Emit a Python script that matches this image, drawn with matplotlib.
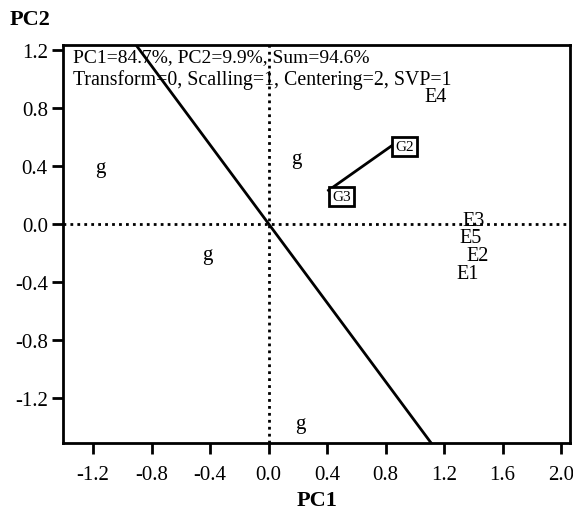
import matplotlib
matplotlib.use('Agg')
import matplotlib.pyplot as plt
import numpy as np

plt.rcParams['font.family'] = ['Liberation Serif', 'DejaVu Serif']

# genotype markers ("g")
g_x = [-1.15, 0.19, -0.42, 0.22]
g_y = [0.39, 0.45, -0.21, -1.38]

# environments
env_labels = ['E1', 'E2', 'E3', 'E4', 'E5']
env_x = [1.36, 1.43, 1.40, 1.145, 1.38]
env_y = [-0.34, -0.22, 0.025, 0.875, -0.095]

# boxed genotypes
box_labels = ['G2', 'G3']
box_x = [0.93, 0.50]
box_y = [0.53, 0.19]

# segment between G3 and G2
seg_x = [0.41, 0.86]
seg_y = [0.23, 0.55]

# line through origin
line_slope = -1.36

xticks = [-1.2, -0.8, -0.4, 0.0, 0.4, 0.8, 1.2, 1.6, 2.0]
yticks = [-1.2, -0.8, -0.4, 0.0, 0.4, 0.8, 1.2]

fig = plt.figure(figsize=(5.73, 5.10), dpi=100)
ax = fig.add_axes([0.110, 0.1294, 0.885, 0.7804])
ax.set_xlim(-1.405, 2.062)
ax.set_ylim(-1.512, 1.232)

ax.axhline(0, color='black', lw=2, ls=(0, (1, 1.5)))
ax.axvline(0, color='black', lw=2, ls=(0, (1, 1.5)))

xx = np.array([-3, 3])
ax.plot(xx, line_slope * xx, color='black', lw=2)

ax.plot(seg_x, seg_y, color='black', lw=2)

for x, y in zip(g_x, g_y):
    ax.text(x, y, 'g', fontsize=15, ha='center', va='center')
for lab, x, y in zip(env_labels, env_x, env_y):
    ax.text(x, y, lab, fontsize=14.5, ha='center', va='center')
for lab, x, y in zip(box_labels, box_x, box_y):
    ax.text(x, y, lab, fontsize=11, ha='center', va='center',
            bbox=dict(boxstyle='square,pad=0.2', fc='white', ec='black', lw=2))

ax.text(0.02, 0.96, 'PC1=84.7%, PC2=9.9%, Sum=94.6%', transform=ax.transAxes,
        fontsize=14, ha='left', va='baseline')
ax.text(0.02, 0.902, 'Transform=0, Scalling=1, Centering=2, SVP=1', transform=ax.transAxes,
        fontsize=14.3, ha='left', va='baseline')

ax.set_xticks(xticks)
ax.set_xticklabels([f'{t:.1f}' for t in xticks])
ax.set_yticks(yticks)
ax.set_yticklabels([f'{t:.1f}' for t in yticks])
ax.tick_params(direction='out', length=8, width=2, labelsize=15)
ax.tick_params(axis='x', pad=8)
ax.tick_params(axis='y', pad=3)
for s in ax.spines.values():
    s.set_linewidth(2)

ax.set_xlabel('PC1', fontsize=16, fontweight='bold', labelpad=4)
fig.text(0.017, 0.96, 'PC2', fontsize=16, fontweight='bold', ha='left', va='center')

fig.savefig('out.png', dpi=100)
